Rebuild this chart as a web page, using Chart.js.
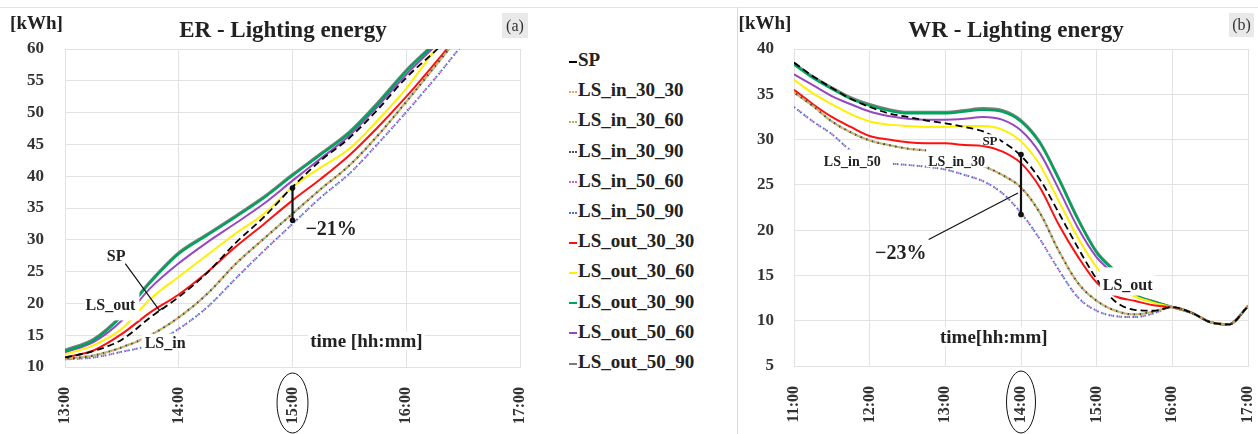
<!DOCTYPE html>
<html>
<head>
<meta charset="utf-8">
<script src="https://cdn.jsdelivr.net/npm/chart.js@4.4.1/dist/chart.umd.min.js"></script>
<style>
    html, body { margin: 0; padding: 0; background: #fff; }
    body { width: 1258px; height: 434px; position: relative; overflow: hidden; }
    .panel { position: absolute; top: 0; }
    #erBox { left: 0; }
    #wrBox { left: 738px; }
    #topLine { position: absolute; left: 0; top: 7px; width: 1258px; height: 1px; background: #e4e4e4; }
    #divider { position: absolute; left: 737px; top: 7px; width: 1px; height: 427px; background: #d8d8d8; }
    #legend { position: absolute; left: 569px; top: 45px; font: bold 19px 'Liberation Serif', serif; color: #222; }
    .item { height: 30.2px; line-height: 30.2px; white-space: nowrap; }
    .mark { display: inline-block; width: 8px; height: 0; vertical-align: middle; margin-right: 1px; }
</style>
</head>
<body>
<div id="topLine"></div>
<div id="divider"></div>
<div class="panel" id="erBox"><canvas id="erChart" width="540" height="434"></canvas></div>
<div class="panel" id="wrBox"><canvas id="wrChart" width="520" height="434"></canvas></div>
<div id="legend"></div>

<script>
// Values: lighting energy in kWh, time in decimal hours

const seriesNames = ['SP', 'LS_in_30_30', 'LS_in_30_60', 'LS_in_30_90', 'LS_in_50_60', 'LS_in_50_90',
    'LS_out_30_30', 'LS_out_30_60', 'LS_out_30_90', 'LS_out_50_60', 'LS_out_50_90'];

// (a) ER
const erTimes = [13, 13.25, 13.5, 13.75, 14, 14.25, 14.5, 14.75, 15, 15.25, 15.5, 15.75, 16, 16.25, 16.5, 16.75];
const erSP       = [11.5, 12.5, 14.3, 17.8, 21.0, 24.8, 29.5, 33.6, 38.3, 42.5, 46.0, 50.5, 55.5, 59.6, 64.0, 68.5];
const erIn30_30  = [11.3, 11.8, 13.1, 15.0, 17.8, 21.5, 26.2, 30.2, 34.1, 38.0, 41.7, 46.4, 51.7, 57.2, 62.7, 68.0];
const erIn30_60  = [11.3, 11.8, 13.1, 15.0, 17.8, 21.5, 26.2, 30.2, 34.1, 38.0, 41.7, 46.4, 51.7, 57.2, 62.7, 68.0];
const erIn30_90  = [11.3, 11.8, 13.1, 15.0, 17.8, 21.5, 26.2, 30.2, 34.1, 38.0, 41.7, 46.4, 51.7, 57.2, 62.7, 68.0];
const erIn50_60  = [11.2, 11.5, 12.4, 13.5, 16.0, 19.4, 23.9, 28.3, 32.5, 36.7, 40.4, 45.1, 50.1, 55.3, 60.8, 66.0];
const erIn50_90  = [11.2, 11.5, 12.4, 13.5, 16.0, 19.4, 23.9, 28.3, 32.5, 36.7, 40.4, 45.1, 50.1, 55.3, 60.8, 66.0];
const erOut30_30 = [11.5, 12.6, 15.2, 18.6, 21.4, 24.9, 28.9, 32.5, 36.2, 39.6, 43.3, 47.7, 52.5, 57.7, 63.0, 68.0];
const erOut30_60 = [12.0, 13.4, 16.0, 20.7, 24.2, 27.6, 31.0, 34.1, 38.3, 41.4, 44.3, 48.8, 53.8, 59.8, 65.0, 70.0];
const erOut30_90 = [12.5, 14.2, 18.0, 23.3, 27.8, 30.7, 33.6, 36.6, 40.1, 43.4, 46.8, 51.4, 56.5, 60.8, 65.5, 70.0];
const erOut50_60 = [12.3, 13.9, 17.3, 22.4, 26.3, 29.6, 32.6, 35.7, 39.3, 42.8, 46.4, 51.0, 56.0, 60.4, 65.0, 70.0];
const erOut50_90 = [12.7, 14.4, 18.2, 23.5, 28.0, 30.9, 33.8, 36.8, 40.3, 43.6, 47.0, 51.6, 56.7, 61.0, 65.7, 70.0];

// (b) WR
const wrTimes = [11, 11.25, 11.5, 11.75, 12, 12.25, 12.5, 12.75, 13, 13.25, 13.5, 13.75, 14,
    14.25, 14.5, 14.75, 15, 15.25, 15.5, 15.75, 16, 16.25, 16.5, 16.75, 17];
const wrSP       = [38.5, 37.0, 35.7, 34.5, 33.6, 32.9, 32.5, 32.1, 31.8, 31.4, 30.9, 29.8, 28.2, 25.6, 21.9, 18.1, 14.6, 12.1, 11.2, 11.1, 11.5, 10.9, 9.85, 9.6, 11.6];
const wrIn30_30  = [35.2, 33.7, 32.0, 30.8, 29.9, 29.4, 29.0, 28.8, 28.6, 28.0, 27.1, 26.1, 24.7, 21.9, 17.7, 14.2, 12.2, 11.1, 10.7, 11.0, 11.5, 10.9, 9.85, 9.6, 11.6];
const wrIn30_60  = [35.2, 33.7, 32.0, 30.8, 29.9, 29.4, 29.0, 28.8, 28.6, 28.0, 27.1, 26.1, 24.7, 21.9, 17.7, 14.2, 12.2, 11.1, 10.7, 11.0, 11.5, 10.9, 9.85, 9.6, 11.6];
const wrIn30_90  = [35.2, 33.7, 32.0, 30.8, 29.9, 29.4, 29.0, 28.8, 28.6, 28.0, 27.1, 26.1, 24.7, 21.9, 17.7, 14.2, 12.2, 11.1, 10.7, 11.0, 11.5, 10.9, 9.85, 9.6, 11.6];
const wrIn50_60  = [33.6, 32.0, 30.6, 28.8, 27.9, 27.4, 27.2, 27.0, 26.7, 26.1, 25.4, 24.1, 21.9, 19.0, 15.6, 12.6, 11.1, 10.5, 10.4, 10.8, 11.5, 10.9, 9.85, 9.6, 11.6];
const wrIn50_90  = [33.6, 32.0, 30.6, 28.8, 27.9, 27.4, 27.2, 27.0, 26.7, 26.1, 25.4, 24.1, 21.9, 19.0, 15.6, 12.6, 11.1, 10.5, 10.4, 10.8, 11.5, 10.9, 9.85, 9.6, 11.6];
const wrOut30_30 = [35.5, 33.9, 32.5, 31.4, 30.4, 30.0, 29.7, 29.6, 29.6, 29.4, 29.3, 28.7, 27.4, 24.7, 20.6, 17.1, 14.2, 12.7, 12.2, 11.7, 11.5, 10.9, 9.85, 9.6, 11.6];
const wrOut30_60 = [36.6, 35.1, 33.9, 32.8, 32.0, 31.65, 31.5, 31.4, 31.4, 31.5, 31.5, 31.1, 29.8, 27.2, 23.2, 19.2, 15.9, 13.8, 12.7, 12.0, 11.5, 10.9, 9.85, 9.6, 11.6];
const wrOut30_90 = [38.3, 36.8, 35.6, 34.5, 33.75, 33.2, 32.9, 32.9, 32.9, 33.1, 33.3, 33.1, 32.0, 29.6, 25.6, 21.2, 17.5, 15.3, 12.9, 12.1, 11.5, 10.9, 9.85, 9.6, 11.6];
const wrOut50_60 = [37.2, 36.0, 34.8, 33.9, 33.1, 32.6, 32.3, 32.2, 32.2, 32.3, 32.5, 32.2, 31.0, 28.5, 24.5, 20.3, 17.0, 15.0, 12.8, 12.1, 11.5, 10.9, 9.85, 9.6, 11.6];
const wrOut50_90 = [38.45, 36.95, 35.75, 34.65, 33.9, 33.35, 33.05, 33.05, 33.05, 33.25, 33.45, 33.25, 32.15, 29.75, 25.75, 21.35, 17.65, 15.45, 12.95, 12.15, 11.5, 10.9, 9.85, 9.6, 11.6];

// Line styles, same order as seriesNames
const seriesStyle = [
    { color: '#000000', width: 1.8, dash: [7, 4] },
    { color: '#f0a060', width: 2.2, dash: [2, 4], offset: 0, dotted: true },
    { color: '#98c060', width: 2.2, dash: [2, 4], offset: 2, dotted: true },
    { color: '#505050', width: 2.2, dash: [2, 4], offset: 4, dotted: true },
    { color: '#d060d0', width: 2, dash: [1.6, 6.4], offset: 2, dotted: true },
    { color: '#4a72d0', width: 2, dash: [1.6, 2.4], offset: 0, dotted: true },
    { color: '#ff1010', width: 2, dash: [] },
    { color: '#fff000', width: 2, dash: [] },
    { color: '#00a35c', width: 2.4, dash: [] },
    { color: '#9548c0', width: 2, dash: [] },
    { color: '#7d7d7d', width: 2.4, dash: [] }
];

const FONT = "'Liberation Serif', serif";

// Text, arrows and leader lines drawn on top of the plot
const decoPlugin = {
    id: 'deco',
    afterDatasetsDraw(chart, args, o) {
        const ctx = chart.ctx, xs = chart.scales.x, ys = chart.scales.y;
        ctx.save();
        (o.labels || []).forEach(l => {
            ctx.font = `bold ${l.size}px ${FONT}`;
            const w = ctx.measureText(l.text).width;
            const px = xs.getPixelForValue(l.x), py = ys.getPixelForValue(l.y);
            const h = l.size * 0.38;
            const p = l.pad || [2, 2, 2, 2];
            ctx.fillStyle = '#fff';
            ctx.fillRect(px - w / 2 - p[3], py - h - p[0], w + p[1] + p[3], 2 * h + p[0] + p[2]);
            ctx.fillStyle = '#222';
            ctx.textAlign = 'center';
            ctx.textBaseline = 'middle';
            ctx.fillText(l.text, px, py + 1);
        });
        ctx.strokeStyle = '#111';
        (o.leaders || []).forEach(l => {
            const x0 = xs.getPixelForValue(l.x0), y0 = ys.getPixelForValue(l.y0);
            const x1 = xs.getPixelForValue(l.x1), y1 = ys.getPixelForValue(l.y1);
            ctx.lineWidth = 1.2;
            ctx.beginPath();
            ctx.moveTo(x0, y0);
            ctx.lineTo(x1, y1);
            if (l.tick) {
                const len = Math.hypot(x1 - x0, y1 - y0);
                const nx = -(y1 - y0) / len * 4, ny = (x1 - x0) / len * 4;
                ctx.moveTo(x1 - nx, y1 - ny);
                ctx.lineTo(x1 + nx, y1 + ny);
            }
            ctx.stroke();
        });
        (o.arrows || []).forEach(a => {
            const x = xs.getPixelForValue(a.x);
            const y0 = ys.getPixelForValue(a.y0), y1 = ys.getPixelForValue(a.y1);
            ctx.lineWidth = 2.2;
            ctx.beginPath();
            ctx.moveTo(x, y0);
            ctx.lineTo(x, y1);
            ctx.stroke();
            ctx.fillStyle = '#111';
            [y0, y1].forEach(y => {
                ctx.beginPath();
                ctx.arc(x, y, 2.8, 0, Math.PI * 2);
                ctx.fill();
            });
        });
        ctx.restore();
    },
    afterDraw(chart, args, o) {
        const ctx = chart.ctx;
        ctx.save();
        ctx.fillStyle = '#222';
        ctx.textBaseline = 'alphabetic';
        ctx.textAlign = 'center';
        ctx.font = `bold 23px ${FONT}`;
        ctx.fillText(o.title.text, o.title.x, o.title.y);
        ctx.font = `bold 19px ${FONT}`;
        ctx.fillText('[kWh]', o.unit.x, o.unit.y);
        // panel tag
        ctx.fillStyle = '#e9e9e9';
        ctx.fillRect(o.tag.x, o.tag.y, o.tag.w, o.tag.h);
        ctx.fillStyle = '#333';
        ctx.font = `16px ${FONT}`;
        ctx.fillText(o.tag.text, o.tag.x + o.tag.w / 2, o.tag.y + o.tag.h - 7);
        // ring around the highlighted hour label
        const rx = chart.scales.x.getPixelForValue(o.ring.value);
        ctx.strokeStyle = '#111';
        ctx.lineWidth = 1;
        ctx.beginPath();
        ctx.ellipse(rx, chart.chartArea.bottom + o.ring.dy, o.ring.rx, o.ring.ry, 0, 0, Math.PI * 2);
        ctx.stroke();
        ctx.restore();
    }
};

function buildChart(canvasId, times, values, cfg) {
    const gridColor = '#e2e2e2';
    return new Chart(document.getElementById(canvasId), {
        type: 'line',
        data: {
            datasets: seriesNames.map((name, i) => ({
                label: name,
                data: times.map((t, k) => ({ x: t, y: values[i][k] })),
                borderColor: seriesStyle[i].color,
                borderWidth: seriesStyle[i].width,
                borderDash: seriesStyle[i].dash,
                borderDashOffset: seriesStyle[i].offset || 0,
                pointRadius: 0,
                fill: false,
                cubicInterpolationMode: 'monotone'
            }))
        },
        options: {
            responsive: false,
            animation: false,
            layout: { padding: { top: 49, right: cfg.padRight, left: 0, bottom: 0 } },
            plugins: {
                legend: { display: false },
                tooltip: { enabled: false },
                deco: cfg.deco
            },
            scales: {
                x: {
                    type: 'linear',
                    min: cfg.xMin,
                    max: cfg.xMax,
                    afterFit: s => {
                        s.height = cfg.xHeight;
                        s.paddingLeft = 0;
                        s.paddingRight = 0;
                    },
                    grid: { color: gridColor, drawTicks: false },
                    border: { color: gridColor },
                    ticks: {
                        stepSize: 1,
                        autoSkip: false,
                        minRotation: 90,
                        maxRotation: 90,
                        padding: 20,
                        color: '#333',
                        font: { family: FONT, size: 16, weight: 'bold' },
                        callback: v => v + ':00'
                    }
                },
                y: {
                    min: cfg.yMin,
                    max: cfg.yMax,
                    afterFit: s => { s.width = cfg.yWidth; },
                    grid: { color: gridColor, drawTicks: false },
                    border: { color: gridColor },
                    ticks: {
                        stepSize: 5,
                        padding: cfg.yPad,
                        color: '#333',
                        font: { family: FONT, size: 17, weight: 'bold' }
                    }
                }
            }
        },
        plugins: [decoPlugin]
    });
}

buildChart('erChart', erTimes,
    [erSP, erIn30_30, erIn30_60, erIn30_90, erIn50_60, erIn50_90, erOut30_30, erOut30_60, erOut30_90, erOut50_60, erOut50_90],
    {
        xMin: 13, xMax: 17, yMin: 10, yMax: 60,
        yWidth: 65, yPad: 21, xHeight: 67, padRight: 20,
        deco: {
            title: { text: 'ER - Lighting energy', x: 283, y: 37 },
            unit: { x: 36.5, y: 29 },
            tag: { text: '(a)', x: 502, y: 13, w: 26, h: 25 },
            ring: { value: 15, dy: 36, rx: 15.5, ry: 30 },
            labels: [
                { text: 'SP', x: 13.45, y: 27.45, size: 16 },
                { text: 'LS_out', x: 13.40, y: 19.7, size: 16, pad: [8, 4, 9, 1] },
                { text: 'LS_in', x: 13.88, y: 13.8, size: 16, pad: [3, 1, 2, 3] },
                { text: '\u221221%', x: 15.34, y: 31.75, size: 20 },
                { text: 'time [hh:mm]', x: 15.65, y: 14.1, size: 19 }
            ],
            leaders: [{ x0: 13.53, y0: 26.25, x1: 13.83, y1: 18.9, tick: true }],
            arrows: [{ x: 15, y0: 38.15, y1: 33.06 }]
        }
    });

buildChart('wrChart', wrTimes,
    [wrSP, wrIn30_30, wrIn30_60, wrIn30_90, wrIn50_60, wrIn50_90, wrOut30_30, wrOut30_60, wrOut30_90, wrOut50_60, wrOut50_90],
    {
        xMin: 11, xMax: 17, yMin: 5, yMax: 40,
        yWidth: 56, yPad: 20, xHeight: 68, padRight: 10,
        deco: {
            title: { text: 'WR - Lighting energy', x: 278, y: 37 },
            unit: { x: 27, y: 29 },
            tag: { text: '(b)', x: 491, y: 13, w: 25, h: 24 },
            ring: { value: 14, dy: 36, rx: 14.5, ry: 31 },
            labels: [
                { text: 'SP', x: 13.59, y: 29.93, size: 13, pad: [1, 2, 0, 2] },
                { text: 'LS_in_50', x: 11.77, y: 27.54, size: 14, pad: [7, 12, 2, 2] },
                { text: 'LS_in_30', x: 13.15, y: 27.54, size: 14, pad: [8, 2, 0, 2] },
                { text: 'LS_out', x: 15.41, y: 14.0, size: 16, pad: [11, 2, 5, 3] },
                { text: '\u221223%', x: 12.41, y: 17.5, size: 20 },
                { text: 'time[hh:mm]', x: 13.64, y: 8.24, size: 19 }
            ],
            leaders: [{ x0: 12.78, y0: 18.97, x1: 13.96, y1: 24.1 }],
            arrows: [{ x: 14, y0: 28.35, y1: 21.73 }]
        }
    });

// HTML legend between the two panels
const legendBox = document.getElementById('legend');
seriesNames.forEach((name, i) => {
    const st = seriesStyle[i];
    const row = document.createElement('div');
    row.className = 'item';
    const mark = document.createElement('span');
    mark.className = 'mark';
    mark.style.borderTop = `2px ${st.dotted ? 'dotted' : 'solid'} ${st.color}`;
    row.appendChild(mark);
    row.appendChild(document.createTextNode(name));
    legendBox.appendChild(row);
});
</script>
</body>
</html>
